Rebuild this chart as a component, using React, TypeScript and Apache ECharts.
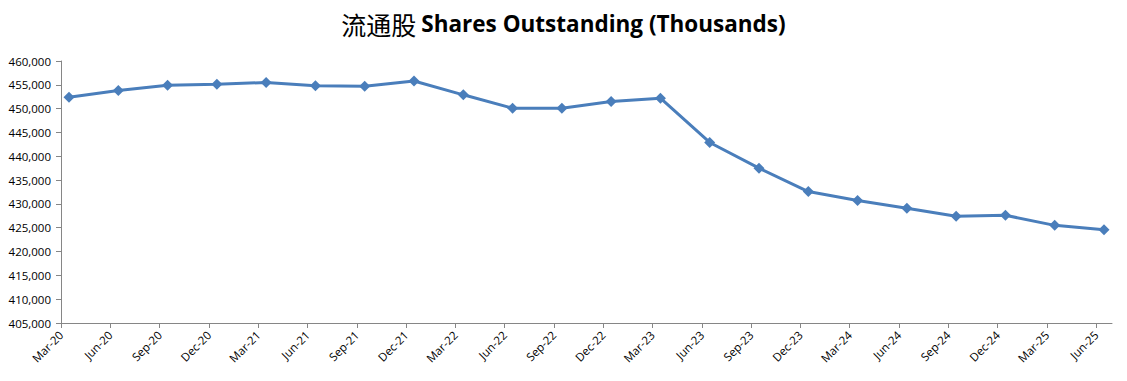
import React, { useEffect, useRef } from "react";
import * as echarts from "echarts";

const categories = [
  "Mar-20", "Jun-20", "Sep-20", "Dec-20", "Mar-21", "Jun-21", "Sep-21", "Dec-21",
  "Mar-22", "Jun-22", "Sep-22", "Dec-22", "Mar-23", "Jun-23", "Sep-23", "Dec-23",
  "Mar-24", "Jun-24", "Sep-24", "Dec-24", "Mar-25", "Jun-25",
];

const sharesOutstanding = [
  452400, 453800, 454900, 455100, 455500, 454800, 454700, 455800,
  452900, 450100, 450100, 451500, 452200, 442900, 437500, 432600,
  430700, 429100, 427400, 427600, 425500, 424600,
];

const titleCn = "流通股";
const titleEn = "Shares Outstanding (Thousands)";

const yMin = 405000;
const yMax = 460000;
const yStep = 5000;

export default function App() {
  const ref = useRef<HTMLDivElement>(null);

  useEffect(() => {
    if (!ref.current) return;
    const chart = echarts.init(ref.current, null, { renderer: "svg" });
    const labelFont = "'Open Sans', 'Liberation Sans', sans-serif";
    const axisColor = "#868686";
    chart.setOption({
      animation: false,
      backgroundColor: "#ffffff",
      title: {
        text: `{cn|${titleCn}} {en|${titleEn}}`,
        left: "center",
        top: 6,
        textStyle: {
          rich: {
            cn: {
              fontFamily: "'Noto Sans CJK SC', sans-serif",
              fontSize: 25,
              fontWeight: "normal",
              color: "#000",
            },
            en: {
              fontFamily: "'Open Sans', sans-serif",
              fontSize: 22.5,
              fontWeight: "bold",
              color: "#000",
            },
          },
        },
      },
      grid: [
        { left: 61, right: 15, top: 61, bottom: 58, containLabel: false },
        { left: 69, right: 23, top: 61, bottom: 58, containLabel: false },
      ],
      xAxis: [
        {
          type: "value",
          gridIndex: 0,
          min: 0,
          max: 21.32,
          interval: 1,
          axisLine: { show: true, lineStyle: { color: axisColor, width: 1 } },
          axisTick: { show: true, length: 5, lineStyle: { color: axisColor } },
          splitLine: { show: false },
          axisLabel: {
            rotate: 45,
            margin: 10,
            color: "#000",
            fontSize: 11.5,
            fontFamily: labelFont,
            showMaxLabel: false,
            formatter: (v: number) => {
              const i = Math.round(v);
              return Math.abs(v - i) < 1e-6 && categories[i] ? categories[i] : "";
            },
          },
        },
        {
          type: "category",
          gridIndex: 1,
          data: categories,
          boundaryGap: false,
          show: false,
        },
      ],
      yAxis: [
        {
          type: "value",
          gridIndex: 0,
          min: yMin,
          max: yMax,
          interval: yStep,
          axisLine: { show: true, lineStyle: { color: axisColor, width: 1 } },
          axisTick: { show: true, length: 5, lineStyle: { color: axisColor } },
          splitLine: { show: false },
          axisLabel: {
            margin: 10,
            color: "#000",
            fontSize: 11.5,
            fontFamily: labelFont,
            formatter: (v: number) => v.toLocaleString("en-US"),
          },
        },
        {
          type: "value",
          gridIndex: 1,
          min: yMin,
          max: yMax,
          show: false,
          splitLine: { show: false },
        },
      ],
      series: [
        {
          type: "line",
          xAxisIndex: 1,
          yAxisIndex: 1,
          data: sharesOutstanding,
          symbol: "diamond",
          symbolSize: 11,
          lineStyle: { color: "#4A7EBB", width: 3 },
          itemStyle: { color: "#4A7EBB" },
        },
      ],
    });
    return () => chart.dispose();
  }, []);

  return (
    <div
      ref={ref}
      style={{ position: "fixed", left: 0, top: 0, width: 1127, height: 381 }}
    />
  );
}
